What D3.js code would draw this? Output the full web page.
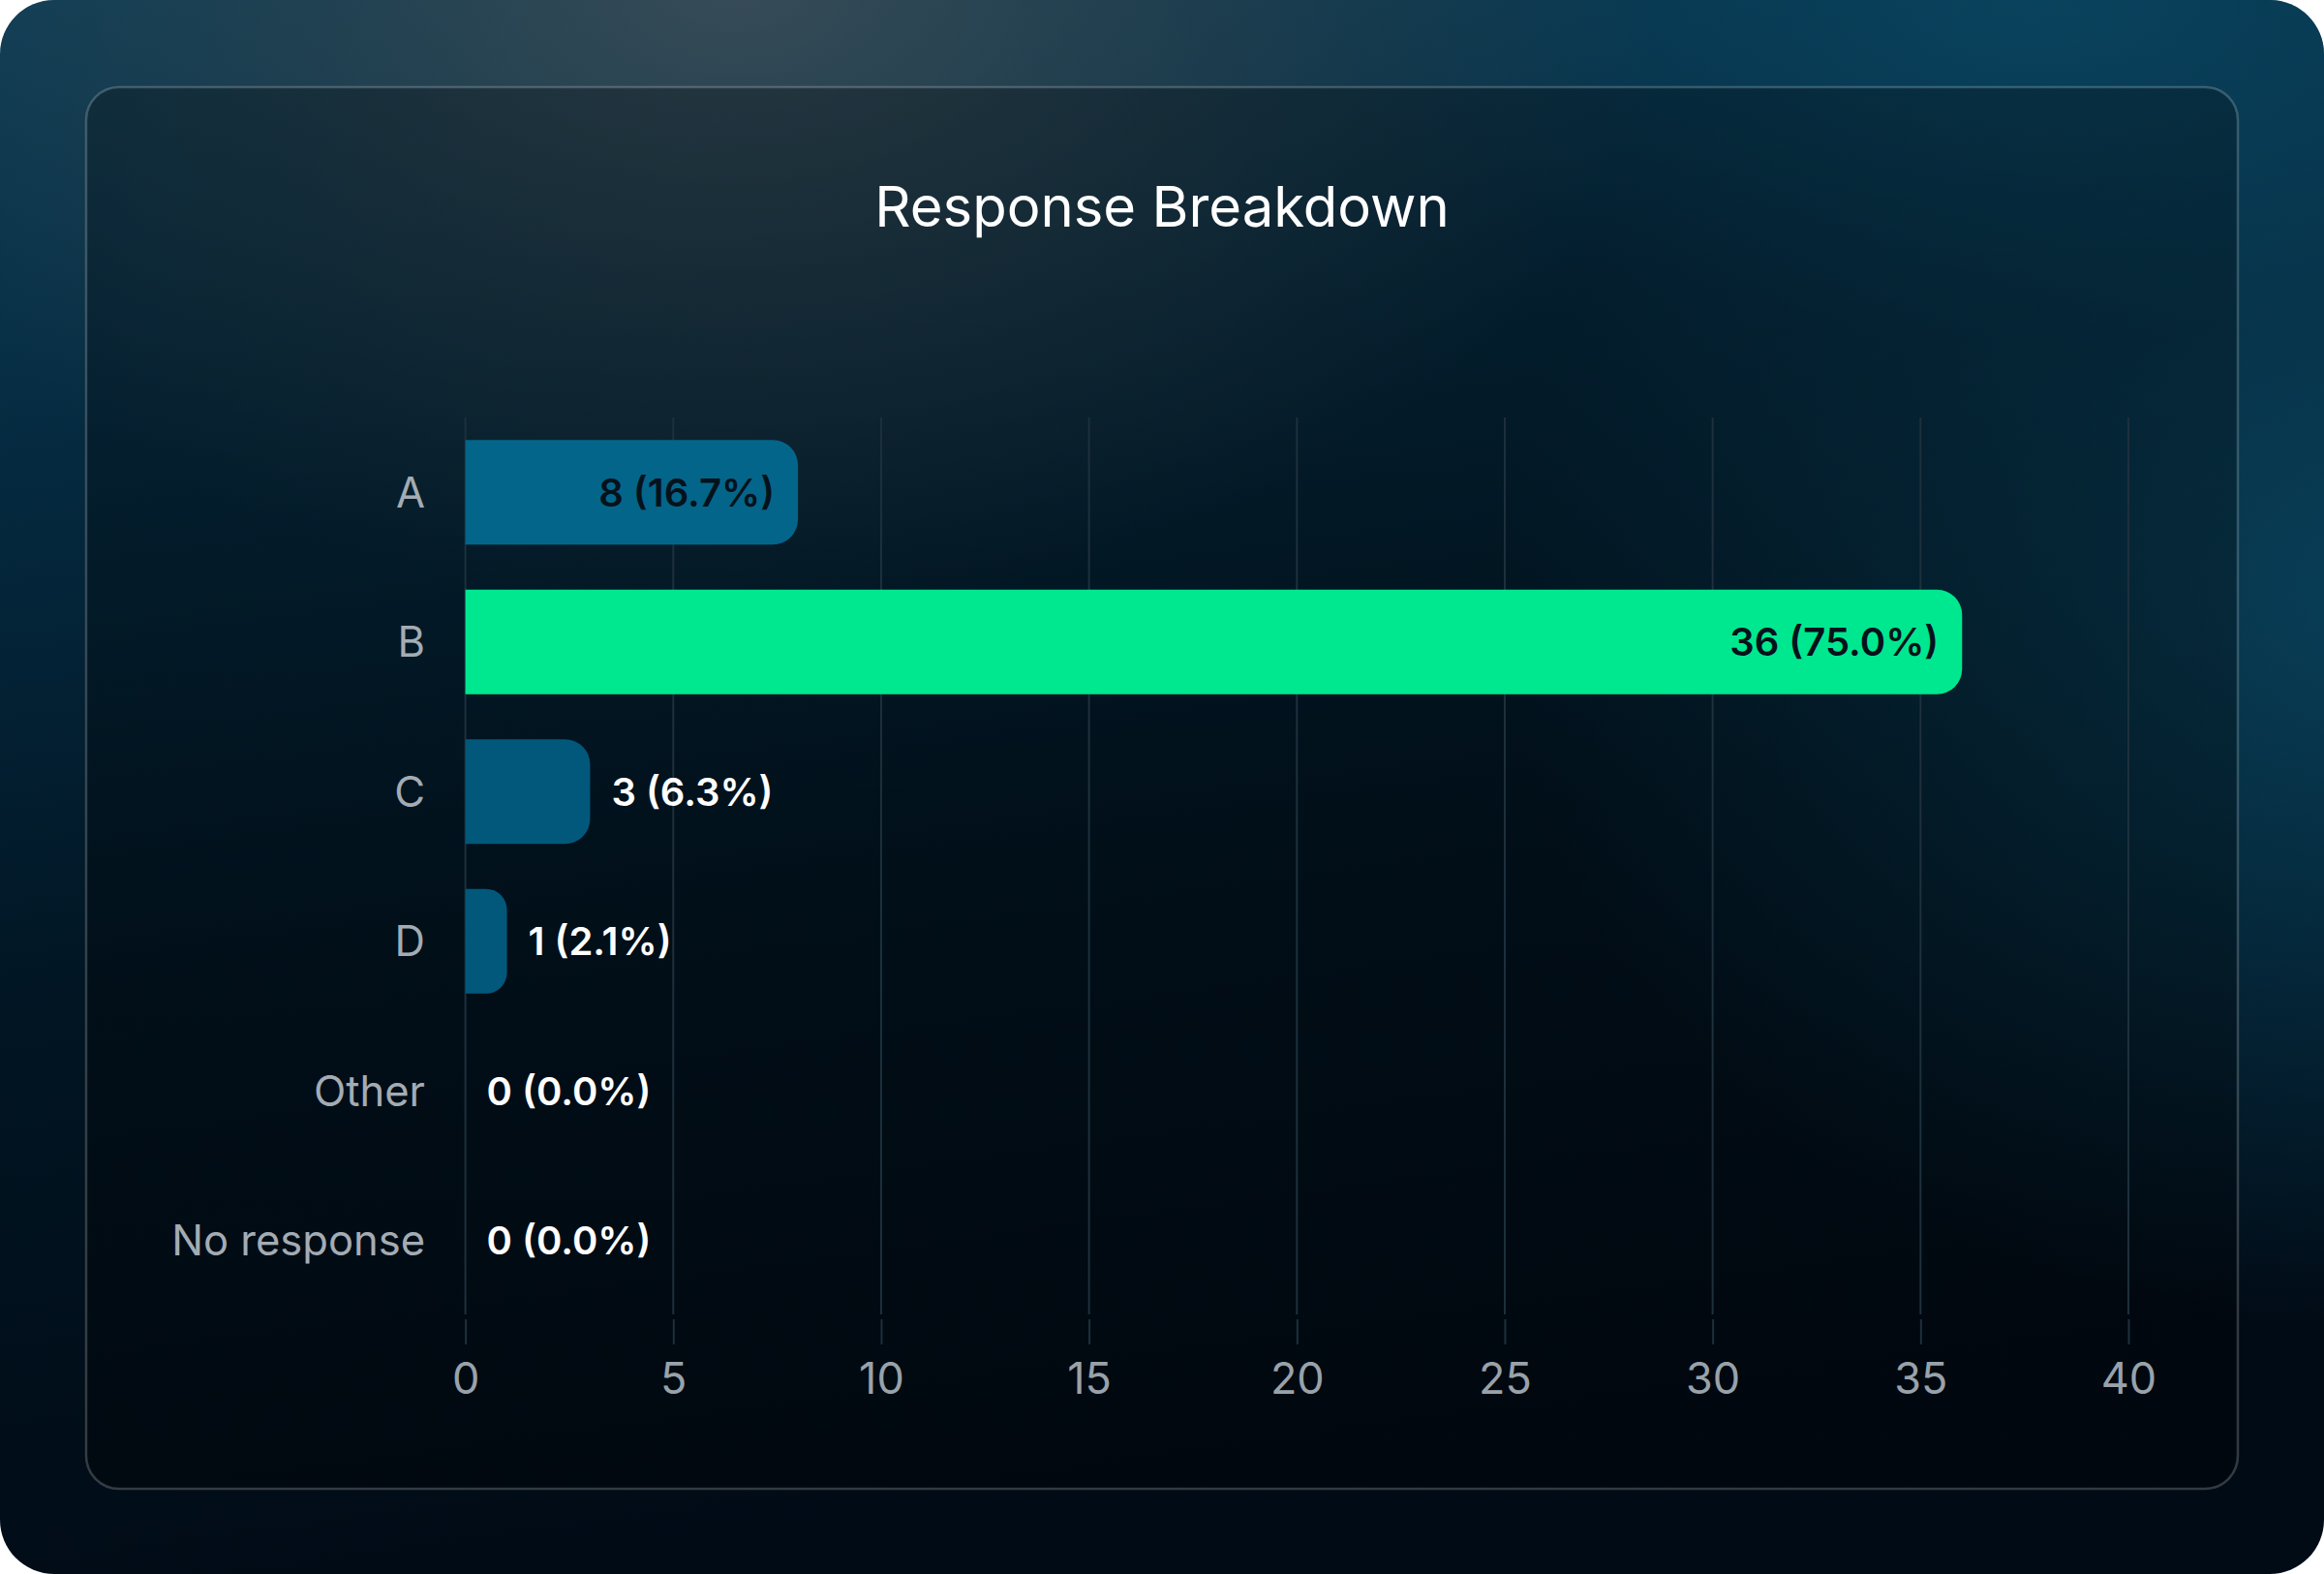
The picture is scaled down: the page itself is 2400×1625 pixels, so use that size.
<!DOCTYPE html>
<html>
<head>
<meta charset="utf-8">
<script src="https://cdn.jsdelivr.net/npm/d3@7"></script>
<style>
  html, body { margin: 0; padding: 0; background: #ffffff; }
  svg { display: block; }
  text { font-family: Inter, "Noto Sans", sans-serif; }
</style>
</head>
<body>
<div id="chart"></div>
<script>
// chart data
const categories = ["A", "B", "C", "D", "Other", "No response"];
const counts = [8, 36, 3, 1, 0, 0];
const percents = [16.7, 75.0, 6.3, 2.1, 0.0, 0.0];
const xTicks = [0, 5, 10, 15, 20, 25, 30, 35, 40];
const title = "Response Breakdown";

// styles
const barColors = ["#04658a", "#00e88f", "#02587a", "#02587a", "#02587a", "#02587a"];
const W = 2400, H = 1625;

const svg = d3.select("#chart")
    .append("svg")
    .attr("width", W)
    .attr("height", H);

const defs = svg.append("defs");

// page background
const bg = defs.append("linearGradient").attr("id", "bg")
    .attr("x1", 0).attr("y1", 0).attr("x2", 0.2).attr("y2", 1);
bg.append("stop").attr("offset", "0%").attr("stop-color", "#0b3d57");
bg.append("stop").attr("offset", "28%").attr("stop-color", "#052a40");
bg.append("stop").attr("offset", "62%").attr("stop-color", "#011523");
bg.append("stop").attr("offset", "100%").attr("stop-color", "#010b16");

const side = defs.append("radialGradient").attr("id", "side")
    .attr("cx", 0.5).attr("cy", 0.5).attr("r", 0.5);
side.append("stop").attr("offset", "0%").attr("stop-color", "#0a4560").attr("stop-opacity", 0.85);
side.append("stop").attr("offset", "100%").attr("stop-color", "#0a4560").attr("stop-opacity", 0);

const glow = defs.append("radialGradient").attr("id", "glow")
    .attr("cx", 0.5).attr("cy", 0.5).attr("r", 0.5);
glow.append("stop").attr("offset", "0%").attr("stop-color", "#3a4d58").attr("stop-opacity", 0.95);
glow.append("stop").attr("offset", "50%").attr("stop-color", "#33464f").attr("stop-opacity", 0.5);
glow.append("stop").attr("offset", "100%").attr("stop-color", "#33464f").attr("stop-opacity", 0);

const panelFill = defs.append("linearGradient").attr("id", "panelFill")
    .attr("x1", 0).attr("y1", 0).attr("x2", 0).attr("y2", 1);
panelFill.append("stop").attr("offset", "0%").attr("stop-color", "#000000").attr("stop-opacity", 0.26);
panelFill.append("stop").attr("offset", "100%").attr("stop-color", "#000000").attr("stop-opacity", 0.34);

defs.append("clipPath").attr("id", "pageClip")
    .append("rect").attr("width", W).attr("height", H).attr("rx", 56);

const page = svg.append("g").attr("clip-path", "url(#pageClip)");
page.append("rect").attr("width", W).attr("height", H).attr("fill", "url(#bg)");
page.append("ellipse").attr("cx", 2450).attr("cy", 620).attr("rx", 900).attr("ry", 750)
    .attr("fill", "url(#side)");
page.append("ellipse").attr("cx", 2100).attr("cy", 0).attr("rx", 700).attr("ry", 350)
    .attr("fill", "url(#side)");
page.append("ellipse").attr("cx", 760).attr("cy", -20).attr("rx", 950).attr("ry", 650)
    .attr("fill", "url(#glow)");

// inner card
page.append("rect")
    .attr("x", 89).attr("y", 90)
    .attr("width", 2222).attr("height", 1447)
    .attr("rx", 34)
    .attr("fill", "url(#panelFill)")
    .attr("stroke", "rgba(255,255,255,0.2)")
    .attr("stroke-width", 2.5);

page.append("text")
    .attr("x", 1200).attr("y", 234)
    .attr("text-anchor", "middle")
    .attr("fill", "#ffffff")
    .style("font-size", "58px")
    .text(title);

// scales
const x = d3.scaleLinear()
    .domain([0, 40])
    .range([480.6, 2198]);

const y = d3.scaleBand()
    .domain(categories)
    .range([431, 1358])
    .paddingInner(0.3)
    .paddingOuter(0.15);

// grid
page.append("g")
    .selectAll("line")
    .data(xTicks)
    .enter()
    .append("line")
    .attr("x1", d => x(d)).attr("x2", d => x(d))
    .attr("y1", 431).attr("y2", 1357)
    .attr("stroke", "#1d303c")
    .attr("stroke-width", 2);

// x axis
const xAxis = page.append("g")
    .attr("transform", "translate(0,1362)")
    .call(d3.axisBottom(x).tickValues(xTicks).tickSize(26).tickPadding(19));
xAxis.select(".domain").remove();
xAxis.selectAll("line").attr("stroke", "#1d303c").attr("stroke-width", 2);
xAxis.selectAll("text")
    .attr("fill", "#98a2aa")
    .style("font-size", "45px")
    .style("font-family", "Inter, sans-serif");

// category labels
page.append("g")
    .selectAll("text")
    .data(categories)
    .enter()
    .append("text")
    .attr("x", 439)
    .attr("y", d => y(d) + y.bandwidth() / 2)
    .attr("dy", "0.36em")
    .attr("text-anchor", "end")
    .attr("fill", "#a3acb4")
    .style("font-size", "43.5px")
    .text(d => d);

// bars with rounded right end
function barPath(v, cat) {
    const x0 = x(0), x1 = x(v);
    const y0 = y(cat), h = y.bandwidth();
    const r = Math.min(26, (x1 - x0) / 2, h / 2);
    return `M${x0},${y0} H${x1 - r} A${r},${r} 0 0 1 ${x1},${y0 + r}` +
        ` V${y0 + h - r} A${r},${r} 0 0 1 ${x1 - r},${y0 + h} H${x0} Z`;
}

const rows = categories.map((c, i) => ({ cat: c, v: counts[i], p: percents[i], color: barColors[i] }));

page.append("g")
    .selectAll("path")
    .data(rows.filter(d => d.v > 0))
    .enter()
    .append("path")
    .attr("d", d => barPath(d.v, d.cat))
    .attr("fill", d => d.color);

// value labels
const labels = page.append("g")
    .selectAll("text")
    .data(rows)
    .enter()
    .append("text")
    .attr("y", d => y(d.cat) + y.bandwidth() / 2)
    .attr("dy", "0.36em")
    .style("font-size", "40px")
    .style("font-weight", 560)
    .text(d => `${d.v} (${d.p.toFixed(1)}%)`);

labels.each(function (d) {
    const t = d3.select(this);
    const tw = this.getComputedTextLength();
    const bw = x(d.v) - x(0);
    if (tw + 48 < bw) {
        t.attr("x", x(d.v) - 24).attr("text-anchor", "end").attr("fill", "#05121b");
    } else {
        t.attr("x", x(d.v) + 22).attr("text-anchor", "start").attr("fill", "#ffffff");
    }
});
</script>
</body>
</html>
